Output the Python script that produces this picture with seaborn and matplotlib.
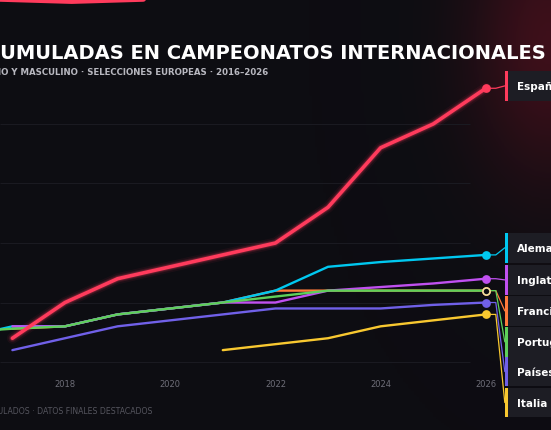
import numpy as np
import pandas as pd
import matplotlib
matplotlib.use("Agg")
import matplotlib.pyplot as plt
import seaborn as sns
from matplotlib.patches import Rectangle
from matplotlib.colors import LinearSegmentedColormap

years = list(range(2016, 2027))
espana = [np.nan, 2, 5, 7, 8, 9, 10, 13, 18, 20, 23]
alemania = [2, 3, 3, 4, 4.5, 5, 6, 8, 8.4, 8.7, 9]
inglaterra = [np.nan, 3, 3, 4, 4.5, 5, 5, 6, 6.3, 6.6, 7]
francia = [np.nan, 2.8, 3, 4, 4.5, 5, 6, 6, 6, 6, 6]
portugal = [2.5, 2.8, 3, 4, 4.5, 5, 5.5, 6, 6, 6, 6]
paises = [np.nan, 1, 2, 3, 3.5, 4, 4.5, 4.5, 4.5, 4.8, 5]
italia = [np.nan]*5 + [1, 1.5, 2, 3, 3.5, 4]
names = ["España", "Alemania", "Inglaterra", "Francia", "Portugal", "Países Bajos", "Italia"]
series = [espana, alemania, inglaterra, francia, portugal, paises, italia]
colors = ["#ff3b5c", "#00c8f0", "#c050f0", "#ff7a3a", "#5ed05a", "#7060e8", "#f8c830"]
box_y = [23.2, 9.6, 6.9, 4.3, 1.7, -0.8, -3.4]
xtick_years = [2018, 2020, 2022, 2024, 2026]

rows = []
for n, s in zip(names, series):
    for y, v in zip(years, s):
        rows.append({"year": y, "value": v, "team": n})
df = pd.DataFrame(rows).dropna()

sns.set_theme(style="dark")
plt.rcParams['font.family'] = ['DejaVu Sans']
bg = "#0d0d12"
fig = plt.figure(figsize=(5.51, 4.31), dpi=100, facecolor=bg)
ax = fig.add_axes([0, 0, 1, 1])
ax.set_facecolor(bg)
x0 = 2018 - 65/52.6
x1 = 2018 + 486/52.6
ax.set_xlim(x0, x1)
ax.set_ylim(-5.71, 30.5)
ax.axis("off")

gx, gy = np.meshgrid(np.linspace(0, 1, 200), np.linspace(0, 1, 200))
glow = np.exp(-(((gx-1.0)/0.2)**2 + ((gy-0.9)/0.45)**2))
cm = LinearSegmentedColormap.from_list("g", [(0.05, 0.05, 0.07, 0), (0.4, 0.07, 0.13, 0.55)])
ax.imshow(glow, extent=[x0, x1, -5.71, 30.5], origin="lower", cmap=cm, aspect="auto", zorder=0)

for g in [0, 5, 10, 15, 20]:
    ax.hlines(g, x0, 2025.7, color="#1b1b22", lw=0.7, zorder=1)

for yr in xtick_years:
    ax.text(yr, -1.8, str(yr), color="#6e6e78", fontsize=6, ha="center", va="center")

sub = df[df.team == "España"]
for lw, a in [(8, 0.06), (5.5, 0.12), (4, 0.2)]:
    ax.plot(sub.year, sub.value, color=colors[0], lw=lw, alpha=a, zorder=2, solid_capstyle="round")

order = ["Italia", "Países Bajos", "Francia", "Alemania", "Inglaterra", "Portugal", "España"]
for n in order:
    i = names.index(n)
    sns.lineplot(data=df[df.team == n], x="year", y="value", color=colors[i],
                 lw=2.6 if n == "España" else 1.7, ax=ax, zorder=3, legend=False)

for n, s, c, by in zip(names, series, colors, box_y):
    v = s[-1]
    fc = bg if n == "Portugal" else c
    ax.scatter([2026], [v], s=26, color=fc, edgecolor=c if n != "Portugal" else "#f0e0a0", lw=1.2, zorder=5)
    xa = 2026 + 10/52.6
    xb = 2026 + 19/52.6
    ax.plot([2026, xa, xb], [v, v, by], color=c, lw=0.9, zorder=4)
    bx = 2026 + 19/52.6
    ax.add_patch(Rectangle((bx, by-1.25), 2, 2.5, facecolor="#1d1d24", edgecolor="none", zorder=4))
    ax.add_patch(Rectangle((bx, by-1.25), 3/52.6, 2.5, facecolor=c, edgecolor="none", zorder=5))
    ax.text(2026 + 31/52.6, by, n, color="white", fontsize=7.5, fontweight="bold", va="center", zorder=6)

fig.text(546/551, 0.875, "VICTORIAS ACUMULADAS EN CAMPEONATOS INTERNACIONALES", color="white",
         fontsize=14, fontweight="bold", va="center", ha="right")
fig.text(268/551, 0.832, "FEMENINO Y MASCULINO · SELECCIONES EUROPEAS · 2016–2026", color="#b8b8c0",
         fontsize=6.2, fontweight="bold", va="center", ha="right")
fig.text(152/551, 0.045, "TÍTULOS ACUMULADOS · DATOS FINALES DESTACADOS", color="#55555e",
         fontsize=5.6, va="center", ha="right")
fig.add_artist(plt.Line2D([0, 0.13, 0.26], [1.0, 0.995, 1.0], color="#ff3b5c", lw=4, transform=fig.transFigure))

fig.savefig("out.png", dpi=100, facecolor=bg)
